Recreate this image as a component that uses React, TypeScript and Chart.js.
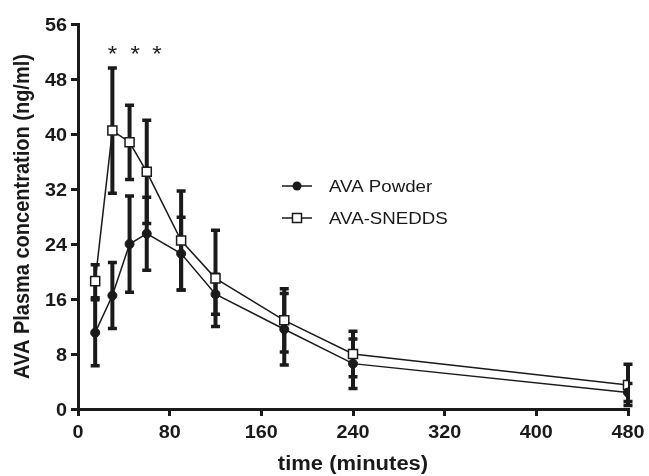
import React, { useEffect, useRef } from 'react';
import { Chart, registerables } from 'chart.js';

Chart.register(...registerables);

// time points (minutes)
const times = [15, 30, 45, 60, 90, 120, 180, 240, 480];
// AVA Powder mean and SD (ng/ml)
const powderMean = [11.1, 16.5, 24.0, 25.5, 22.6, 16.7, 11.6, 6.6, 2.4];
const powderSD = [4.8, 4.8, 7.0, 5.3, 5.3, 2.9, 5.2, 3.6, 1.3];
// AVA-SNEDDS mean and SD (ng/ml)
const snedMean = [18.6, 40.5, 38.8, 34.5, 24.5, 19.0, 12.9, 8.0, 3.5];
const snedSD = [2.4, 9.1, 5.4, 7.5, 7.2, 7.0, 4.6, 3.3, 3.0];
// significance markers
const starTimes = [30, 50, 69];
const starLevel = 52;

const seriesNames = ['AVA Powder', 'AVA-SNEDDS'];
const xTicks = [0, 80, 160, 240, 320, 400, 480];
const yTicks = [0, 8, 16, 24, 32, 40, 48, 56];
const xTitle = 'time (minutes)';
const yTitle = 'AVA Plasma concentration (ng/ml)';

const INK = '#1a1a1a';
const FONT = "'Liberation Sans', Arial, sans-serif";
const SX = 1.1; // horizontal text stretch of the reference

function drawText(
  ctx: CanvasRenderingContext2D,
  text: string,
  x: number,
  y: number,
  font: string,
  align: CanvasTextAlign,
  rot = 0,
) {
  ctx.save();
  ctx.translate(x, y);
  ctx.scale(SX, 1);
  ctx.rotate(rot);
  ctx.font = font;
  ctx.textAlign = align;
  ctx.textBaseline = 'alphabetic';
  ctx.fillStyle = INK;
  ctx.fillText(text, 0, 0);
  ctx.restore();
}

export default function App() {
  const ref = useRef<HTMLCanvasElement>(null);

  useEffect(() => {
    document.body.style.margin = '0';
    const canvas = ref.current!;

    const errorBars = {
      id: 'errorBars',
      beforeDatasetsDraw(chart: any) {
        const { ctx, scales } = chart;
        const x = scales.x;
        const y = scales.y;
        ctx.save();
        ctx.strokeStyle = INK;
        const sets: [number[], number[]][] = [
          [powderMean, powderSD],
          [snedMean, snedSD],
        ];
        for (const [m, s] of sets) {
          times.forEach((t, i) => {
            const px = x.getPixelForValue(t);
            const top = y.getPixelForValue(m[i] + s[i]);
            const bot = y.getPixelForValue(Math.max(0, m[i] - s[i]));
            ctx.lineWidth = 4;
            ctx.beginPath();
            ctx.moveTo(px, top);
            ctx.lineTo(px, bot);
            ctx.stroke();
            ctx.lineWidth = 3.5;
            ctx.beginPath();
            ctx.moveTo(px - 4.5, top);
            ctx.lineTo(px + 4.5, top);
            ctx.moveTo(px - 4.5, bot);
            ctx.lineTo(px + 4.5, bot);
            ctx.stroke();
          });
        }
        ctx.restore();
      },
    };

    const extras = {
      id: 'extras',
      afterDraw(chart: any) {
        const { ctx, scales, chartArea } = chart;
        const x = scales.x;
        const y = scales.y;
        ctx.save();
        // tick labels
        const tickFont = `bold 18px ${FONT}`;
        xTicks.forEach((v) => {
          drawText(ctx, String(v), x.getPixelForValue(v), chartArea.bottom + 29, tickFont, 'center');
        });
        yTicks.forEach((v) => {
          drawText(ctx, String(v), chartArea.left - 11, y.getPixelForValue(v) + 6.5, tickFont, 'right');
        });
        // axis titles
        const titleFont = `bold 20px ${FONT}`;
        drawText(ctx, xTitle, (chartArea.left + chartArea.right) / 2, 470, titleFont, 'center');
        drawText(ctx, yTitle, 29, (chartArea.top + chartArea.bottom) / 2, titleFont, 'center', -Math.PI / 2);
        // asterisks
        starTimes.forEach((t) => {
          drawText(ctx, '*', x.getPixelForValue(t), y.getPixelForValue(starLevel) + 9, `22px ${FONT}`, 'center');
        });
        // legend
        const lx = 282;
        const rows = [186, 218];
        rows.forEach((ry, i) => {
          ctx.strokeStyle = INK;
          ctx.lineWidth = 1.5;
          ctx.beginPath();
          ctx.moveTo(lx, ry);
          ctx.lineTo(lx + 30, ry);
          ctx.stroke();
          if (i === 0) {
            ctx.fillStyle = INK;
            ctx.beginPath();
            ctx.arc(lx + 15, ry, 4.5, 0, Math.PI * 2);
            ctx.fill();
          } else {
            ctx.fillStyle = '#fff';
            ctx.fillRect(lx + 10.5, ry - 4.5, 9, 9);
            ctx.strokeRect(lx + 10.5, ry - 4.5, 9, 9);
          }
          drawText(ctx, seriesNames[i], lx + 47, ry + 6, `17px ${FONT}`, 'left');
        });
        ctx.restore();
      },
    };

    const chart = new Chart(canvas, {
      type: 'line',
      data: {
        datasets: [
          {
            label: seriesNames[0],
            data: times.map((t, i) => ({ x: t, y: powderMean[i] })),
            borderColor: INK,
            borderWidth: 1.5,
            pointStyle: 'circle',
            pointRadius: 4.5,
            pointBackgroundColor: INK,
            pointBorderColor: INK,
            pointBorderWidth: 1,
            tension: 0,
          },
          {
            label: seriesNames[1],
            data: times.map((t, i) => ({ x: t, y: snedMean[i] })),
            borderColor: INK,
            borderWidth: 1.5,
            pointStyle: 'rect',
            pointRadius: 6.4,
            pointBackgroundColor: '#fff',
            pointBorderColor: INK,
            pointBorderWidth: 1.5,
            tension: 0,
          },
        ],
      },
      options: {
        animation: false,
        responsive: false,
        maintainAspectRatio: false,
        layout: { padding: { top: 24, right: 21, left: 0, bottom: 0 } },
        plugins: {
          legend: { display: false },
          tooltip: { enabled: false },
        },
        scales: {
          x: {
            type: 'linear',
            min: 0,
            max: 480,
            afterBuildTicks: (s: any) => {
              s.ticks = xTicks.map((v) => ({ value: v }));
            },
            afterFit: (s: any) => {
              s.height = 67;
            },
            ticks: {
              color: 'rgba(0,0,0,0)',
              font: { family: FONT, size: 18, weight: 'bold' },
              padding: 3,
              maxRotation: 0,
            },
            grid: {
              display: true,
              drawOnChartArea: false,
              drawTicks: true,
              tickLength: 7,
              color: INK,
              lineWidth: 3,
            },
            border: { display: true, color: INK, width: 3 },
          },
          y: {
            type: 'linear',
            min: 0,
            max: 56,
            afterBuildTicks: (s: any) => {
              s.ticks = yTicks.map((v) => ({ value: v }));
            },
            afterFit: (s: any) => {
              s.width = 78;
            },
            ticks: {
              color: 'rgba(0,0,0,0)',
              font: { family: FONT, size: 18, weight: 'bold' },
              padding: 3,
            },
            grid: {
              display: true,
              drawOnChartArea: false,
              drawTicks: true,
              tickLength: 7,
              color: INK,
              lineWidth: 3,
            },
            border: { display: true, color: INK, width: 3 },
          },
        },
      },
      plugins: [errorBars, extras],
    });

    return () => chart.destroy();
  }, []);

  return (
    <div style={{ position: 'absolute', left: 0, top: 0, width: 649, height: 476 }}>
      <canvas ref={ref} width={649} height={476} style={{ display: 'block', width: 649, height: 476 }} />
    </div>
  );
}
